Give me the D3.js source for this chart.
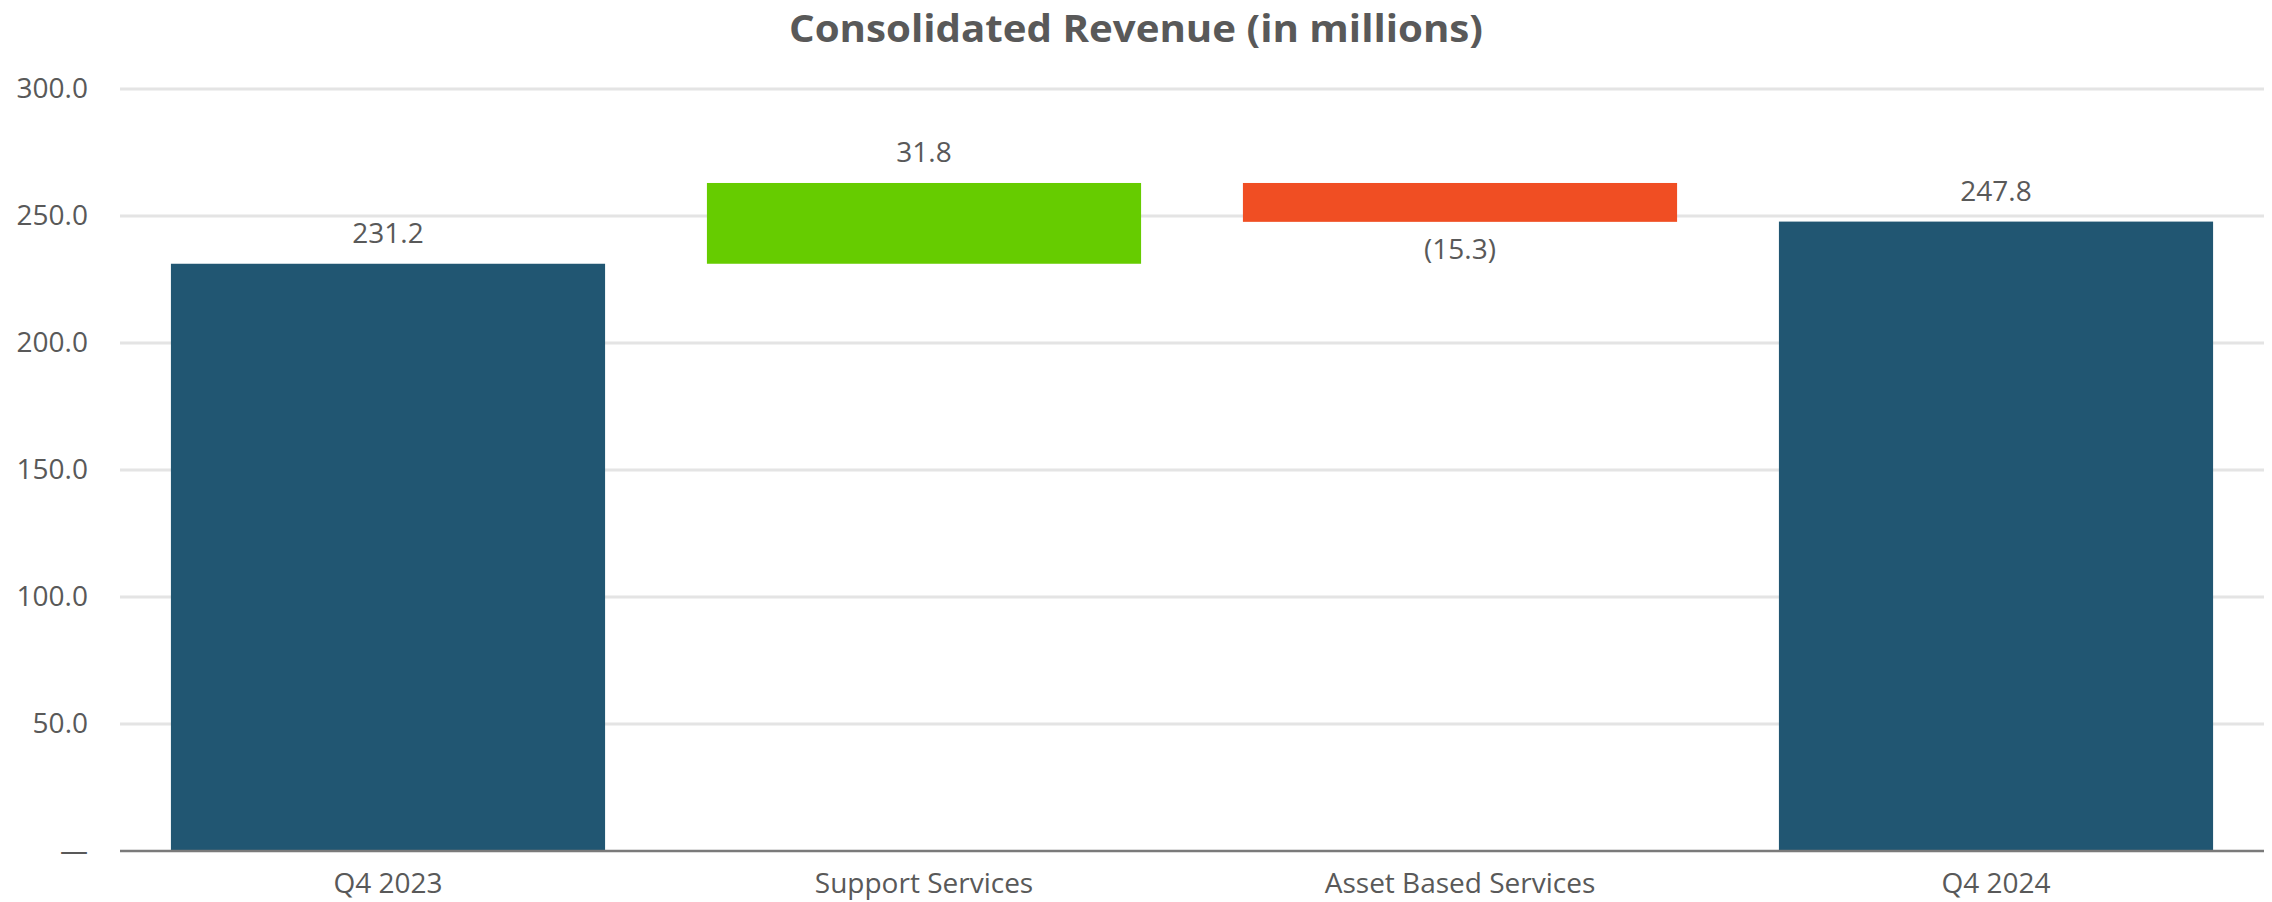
<!DOCTYPE html>
<html>
<head>
<meta charset="utf-8">
<script src="https://cdn.jsdelivr.net/npm/d3@7"></script>
<style>
  html, body { margin: 0; padding: 0; background: #ffffff; }
  svg { display: block; }
  text { font-family: "Open Sans", "Noto Sans", sans-serif; fill: #595959; }
</style>
</head>
<body>
<svg id="chart" width="2272" height="902"></svg>
<script>
// Waterfall data (USD millions)
const categories = ["Q4 2023", "Support Services", "Asset Based Services", "Q4 2024"];
const kinds      = ["total", "delta", "delta", "total"];
const values     = [231.2, 31.8, -15.3, 247.8];
const yTicks     = [0, 50, 100, 150, 200, 250, 300];
const title      = "Consolidated Revenue (in millions)";

const colors = { total: "#215672", up: "#66cc00", down: "#f04e23" };

const W = 2272, H = 902;
const margin = { top: 89, right: 8, bottom: 51, left: 120 };

const svg = d3.select("#chart");

// Build waterfall segments: totals start at 0, deltas float on the running sum
let running = 0;
const bars = categories.map((c, i) => {
  const v = values[i];
  let y0, y1, kind;
  if (kinds[i] === "total") {
    y0 = 0; y1 = v; running = v; kind = "total";
  } else {
    y0 = running; y1 = running + v; running = y1; kind = v >= 0 ? "up" : "down";
  }
  return { cat: c, value: v, kind, lo: Math.min(y0, y1), hi: Math.max(y0, y1) };
});

const x = d3.scaleBand()
  .domain(categories)
  .range([margin.left, W - margin.right])
  .paddingInner(0.19)
  .paddingOuter(0.095);

const y = d3.scaleLinear()
  .domain([0, 300])
  .range([H - margin.bottom, margin.top]);

// Horizontal gridlines
svg.append("g")
  .selectAll("line")
  .data(yTicks.filter(t => t > 0))
  .join("line")
  .attr("x1", margin.left)
  .attr("x2", W - margin.right)
  .attr("y1", d => y(d))
  .attr("y2", d => y(d))
  .attr("stroke", "#e4e4e4")
  .attr("stroke-width", 3);

// Y axis labels
const yAxis = d3.axisLeft(y)
  .tickValues(yTicks)
  .tickSize(0)
  .tickPadding(32)
  .tickFormat(d => d === 0 ? "\u2014" : d3.format(".1f")(d));

const gy = svg.append("g")
  .attr("transform", `translate(${margin.left},0)`)
  .call(yAxis);
gy.select(".domain").remove();
gy.selectAll("text")
  .attr("font-size", 28)
  .style("fill", "#595959");

// Bars
svg.append("g")
  .selectAll("rect")
  .data(bars)
  .join("rect")
  .attr("x", d => x(d.cat))
  .attr("width", x.bandwidth())
  .attr("y", d => y(d.hi))
  .attr("height", d => y(d.lo) - y(d.hi))
  .attr("fill", d => colors[d.kind]);

// Baseline
svg.append("line")
  .attr("x1", margin.left)
  .attr("x2", W - margin.right)
  .attr("y1", y(0))
  .attr("y2", y(0))
  .attr("stroke", "#7a7a7a")
  .attr("stroke-width", 2.5);

// X axis labels
const xAxis = d3.axisBottom(x).tickSize(0).tickPadding(22);
const gx = svg.append("g")
  .attr("transform", `translate(0,${y(0)})`)
  .call(xAxis);
gx.select(".domain").remove();
gx.selectAll("text")
  .attr("font-size", 28)
  .style("fill", "#595959");

// Value labels: negatives in parentheses below the bar, others above
const fmt = d3.format(".1f");
svg.append("g")
  .selectAll("text")
  .data(bars)
  .join("text")
  .attr("x", d => x(d.cat) + x.bandwidth() / 2)
  .attr("y", d => d.value < 0 ? y(d.lo) + 37 : y(d.hi) - 21)
  .attr("text-anchor", "middle")
  .attr("font-size", 28)
  .text(d => d.value < 0 ? `(${fmt(-d.value)})` : fmt(d.value));

// Title
svg.append("text")
  .attr("x", W / 2)
  .attr("y", 42)
  .attr("text-anchor", "middle")
  .attr("font-size", 37)
  .attr("font-weight", 700)
  .attr("textLength", 694)
  .attr("lengthAdjust", "spacingAndGlyphs")
  .text(title);
</script>
</body>
</html>
